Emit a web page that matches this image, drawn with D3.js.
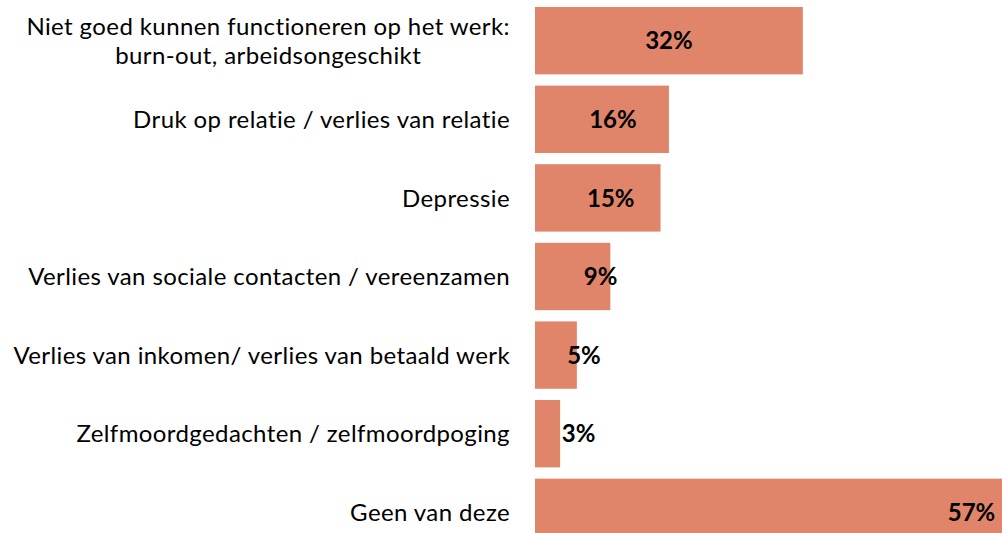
<!DOCTYPE html>
<html>
<head>
<meta charset="utf-8">
<script src="https://cdn.jsdelivr.net/npm/d3@7"></script>
<style>
  html, body { margin: 0; padding: 0; background: #fff; }
  svg { display: block; }
</style>
</head>
<body>
<div id="chart"></div>
<script>
var w = 1002, h = 533;

// data
var categories = [
  ["Niet goed kunnen functioneren op het werk:", "burn-out, arbeidsongeschikt"],
  ["Druk op relatie / verlies van relatie"],
  ["Depressie"],
  ["Verlies van sociale contacten / vereenzamen"],
  ["Verlies van inkomen/ verlies van betaald werk"],
  ["Zelfmoordgedachten / zelfmoordpoging"],
  ["Geen van deze"]
];
var values = [32, 16, 15, 9, 5, 3, 57];

// label nudge in px from bar centre (hand placed in the original)
var labelShift = [0, 11, 13, 28, 28, 31, 198];

var left = 535, labelRight = 510;

var x = d3.scaleLinear().domain([0, 100]).range([left, left + 837]);
var y = d3.scaleBand()
    .domain(d3.range(values.length))
    .range([7, 7 + 77 * values.length])
    .paddingInner(0.143)
    .paddingOuter(0);

var svg = d3.select("#chart").append("svg")
    .attr("width", w)
    .attr("height", h);

svg.selectAll("rect.bar")
    .data(values)
  .enter().append("rect")
    .attr("class", "bar")
    .attr("x", x(0))
    .attr("y", function(d, i) { return y(i); })
    .attr("width", function(d) { return x(d) - x(0); })
    .attr("height", y.bandwidth())
    .attr("fill", "#e0846a");

svg.selectAll("text.val")
    .data(values)
  .enter().append("text")
    .attr("class", "val")
    .attr("x", function(d, i) { return (x(0) + x(d)) / 2 + labelShift[i]; })
    .attr("y", function(d, i) { return y(i) + y.bandwidth() / 2; })
    .attr("dy", "0.36em")
    .attr("text-anchor", "middle")
    .style("font-family", "Lato, 'Open Sans', sans-serif")
    .style("font-weight", "bold")
    .style("font-size", "24px")
    .style("fill", "#000")
    .text(function(d) { return d + "%"; });

var cats = svg.selectAll("g.cat")
    .data(categories)
  .enter().append("g")
    .attr("class", "cat")
    .attr("transform", function(d, i) { return "translate(0," + (y(i) + y.bandwidth() / 2) + ")"; });

cats.each(function(lines) {
  var g = d3.select(this);
  var lh = 29;
  var t = g.append("text")
      .style("font-family", "Lato, 'Open Sans', sans-serif")
      .style("font-size", "24px")
      .style("letter-spacing", "0.4px")
      .style("fill", "#000");
  lines.forEach(function(s, k) {
    t.append("tspan")
      .attr("x", labelRight)
      .attr("y", (k - (lines.length - 1) / 2) * lh)
      .attr("dy", "0.36em")
      .attr("text-anchor", "end")
      .text(s);
  });
  // wrapped labels are centred on the first line
  if (lines.length > 1) {
    var spans = t.selectAll("tspan").nodes();
    var w0 = spans[0].getComputedTextLength();
    spans.forEach(function(sp, k) {
      if (k > 0) {
        d3.select(sp).attr("text-anchor", "middle").attr("x", labelRight - w0 / 2);
      }
    });
  }
});
</script>
</body>
</html>
